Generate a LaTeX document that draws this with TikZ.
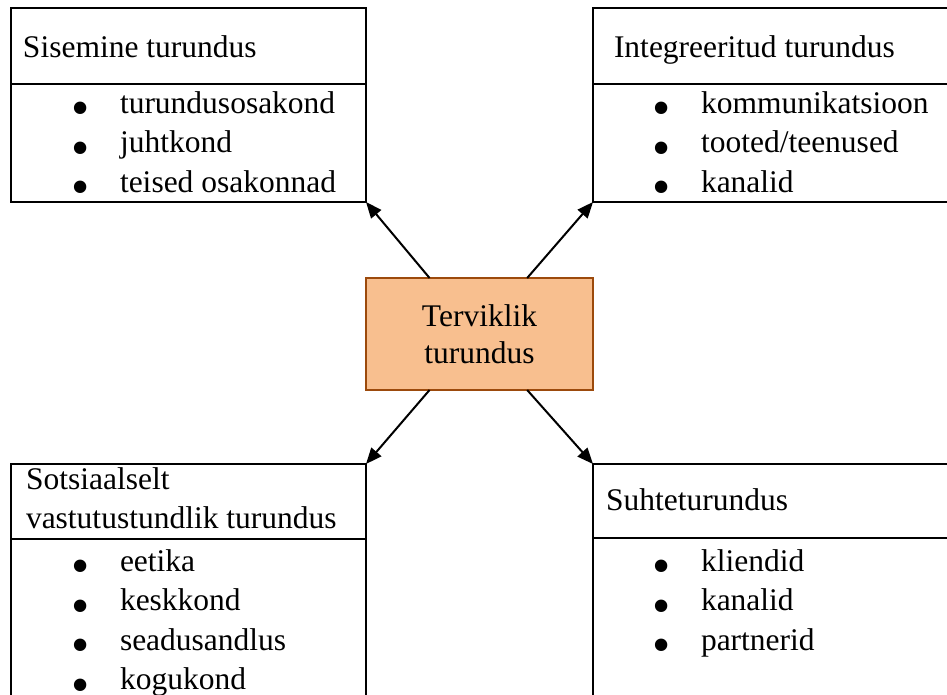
\documentclass[tikz,border=0pt]{standalone}
\usepackage{fontspec}
\setmainfont{Liberation Serif}
\usetikzlibrary{arrows.meta,calc}
\definecolor{peach}{RGB}{248,191,143}
\definecolor{brownedge}{RGB}{156,74,12}
\begin{document}
\begin{tikzpicture}[x=1pt,y=-1pt,
  panel/.style={draw=black,line width=2pt,outer sep=0pt,inner sep=0pt,anchor=north west},
  lbl/.style={inner sep=0pt,outer sep=0pt,anchor=base west,font=\fontsize{31.5pt}{40pt}\selectfont},
  bul/.style={inner sep=0pt,outer sep=0pt,anchor=base,yshift=-12.5pt,font=\fontsize{52pt}{60pt}\selectfont},
  link/.style={line width=2pt,-{Triangle[length=16pt,width=13pt]}}]
\useasboundingbox (0,0) rectangle (947,694);
\clip (0,0) rectangle (947,694);
% panels
\node[panel,minimum width=355pt,minimum height=76pt] (tlh) at (11,8) {};
\node[panel,minimum width=355pt,minimum height=118pt] (tlb) at (11,84) {};
\node[panel,minimum width=380pt,minimum height=76pt] (trh) at (593,8) {};
\node[panel,minimum width=380pt,minimum height=118pt] (trb) at (593,84) {};
\node[panel,minimum width=355pt,minimum height=75pt] (blh) at (11,464) {};
\node[panel,minimum width=355pt,minimum height=200pt] (blb) at (11,539) {};
\node[panel,minimum width=380pt,minimum height=74pt] (brh) at (593,464) {};
\node[panel,minimum width=380pt,minimum height=200pt] (brb) at (593,538) {};
% headers
\node[lbl] (tltitle) at (23,57) {Sisemine turundus};
\node[lbl] (trtitle) at (614,57) {Integreeritud turundus};
\node[lbl] (bltitle1) at (26,489) {Sotsiaalselt};
\node[lbl] (bltitle2) at (26,528) {vastutustundlik turundus};
\node[lbl] (brtitle) at (606,510) {Suhteturundus};
% lists
\foreach \t [count=\i] in {turundusosakond,juhtkond,teised osakonnad}{
  \node[bul] (tlbul\i) at (81,{113+39.5*(\i-1)}) {\textbullet};
  \node[lbl] (tlitem\i) at (120,{113+39.5*(\i-1)}) {\t};
}
\foreach \t [count=\i] in {kommunikatsioon,tooted/teenused,kanalid}{
  \node[bul] (trbul\i) at (662,{113+39.5*(\i-1)}) {\textbullet};
  \node[lbl] (tritem\i) at (701,{113+39.5*(\i-1)}) {\t};
}
\foreach \t [count=\i] in {eetika,keskkond,seadusandlus,kogukond}{
  \node[bul] (blbul\i) at (81,{571+39.5*(\i-1)}) {\textbullet};
  \node[lbl] (blitem\i) at (120,{571+39.5*(\i-1)}) {\t};
}
\foreach \t [count=\i] in {kliendid,kanalid,partnerid}{
  \node[bul] (brbul\i) at (662,{571+39.5*(\i-1)}) {\textbullet};
  \node[lbl] (britem\i) at (701,{571+39.5*(\i-1)}) {\t};
}
% centre
\node[draw=brownedge,fill=peach,line width=2pt,outer sep=0pt,minimum width=227pt,minimum height=112pt,
      align=center,font=\fontsize{31.5pt}{37pt}\selectfont] (c) at (479.5,334) {Terviklik\\turundus};
% arrows
\draw[link] ($(c.north west)!0.28!(c.north east)$) -- (tlb.south east);
\draw[link] ($(c.north west)!0.71!(c.north east)$) -- (trb.south west);
\draw[link] ($(c.south west)!0.28!(c.south east)$) -- (blh.north east);
\draw[link] ($(c.south west)!0.71!(c.south east)$) -- (brh.north west);
\end{tikzpicture}
\end{document}
